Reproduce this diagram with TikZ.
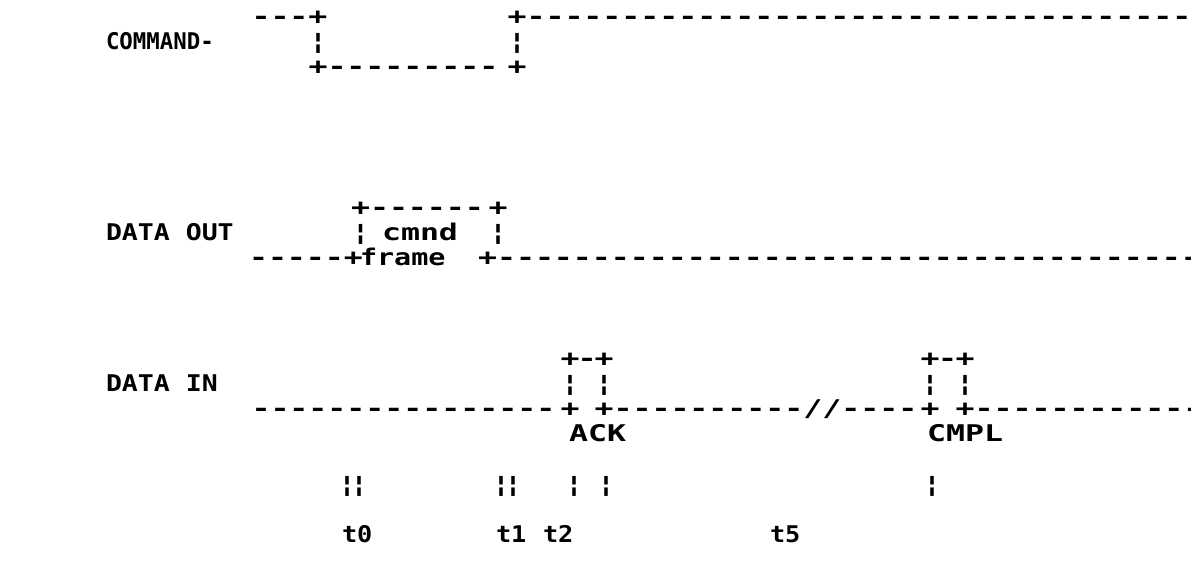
\documentclass[tikz,border=0pt]{standalone}
\usepackage{fontspec}
\newfontfamily\dmfont[FakeStretch=1.3721]{DejaVu Sans Mono}
\ExplSyntaxOn
\cs_new:Npn \mydashes #1 { \prg_replicate:nn {#1} {-{}} }
\ExplSyntaxOff
% left-anchored text segment
\newcommand\seg[4]{\node[txt,anchor=base west] (#1) at (#2,#3) {#4};}
% glyph centred at x
\newcommand\glc[4]{\node[txt,anchor=base] (#1) at (#2,#3) {#4};}
% horizontally scaled label
\newcommand\lab[5]{\node[txt,anchor=base west] (#1) at (#2,#3) {\scalebox{#4}[1]{#5}};}
\begin{document}
\begin{tikzpicture}[x=1pt,y=-1pt,
  txt/.style={font=\dmfont\bfseries\fontsize{23}{23}\selectfont,
    inner sep=0pt, outer sep=0pt}]
\fill[white] (0,0) rectangle (1191,573);
\path[use as bounding box] (0,0) rectangle (1191,573);
% ---------------- COMMAND-
\seg{c1}{251.5}{24}{\mydashes{3}+}
\seg{c2}{507.5}{24}{+\mydashes{36}}
\lab{cl}{106}{49}{0.71}{COMMAND-}
\glc{c3}{318}{49}{¦}
\glc{c4}{517}{49}{¦}
\seg{c5}{308.5}{74}{+\mydashes{9}}
\glc{c6}{517}{74}{+}
% ---------------- DATA OUT
\seg{d1}{351}{215}{+\mydashes{6}}
\glc{d1b}{498}{215}{+}
\lab{dl}{106}{240}{0.84}{DATA\makebox[19pt]{}OUT}
\glc{d2}{360.5}{240}{¦}
\seg{d3}{382}{240}{cmnd}
\glc{d4}{498}{240}{¦}
\seg{d5}{249}{265}{\mydashes{5}+}
\lab{d6}{360}{265}{0.9}{frame}
\seg{d7}{478}{265}{+\mydashes{37}}
% ---------------- DATA IN
\glc{i1}{570}{366}{+}
\glc{i2}{587}{366}{-}
\glc{i3}{604}{366}{+}
\glc{i4}{930}{366}{+}
\glc{i5}{947.5}{366}{-}
\glc{i6}{965}{366}{+}
\lab{il}{106}{391}{0.84}{DATA\makebox[19pt]{}IN}
\glc{i7}{570}{391}{¦}
\glc{i8}{604}{391}{¦}
\glc{i9}{930}{391}{¦}
\glc{i10}{965}{391}{¦}
\seg{i11}{251.5}{416}{\mydashes{16}}
\glc{i12}{570}{416}{+}
\seg{i13}{594.5}{416}{+\mydashes{10}//\mydashes{4}}
\glc{i14}{930}{416}{+}
\seg{i15}{955.5}{416}{+\mydashes{12}}
\seg{ack}{569}{441}{ACK}
\seg{cmpl}{927}{441}{CMPL}
% ---------------- ticks
\glc{k1}{347}{492}{¦}
\glc{k2}{359}{492}{¦}
\glc{k3}{501}{492}{¦}
\glc{k4}{513}{492}{¦}
\glc{k5}{574}{492}{¦}
\glc{k6}{606}{492}{¦}
\glc{k7}{932}{492}{¦}
% ---------------- times
\lab{t0}{342}{542}{0.8}{t0}
\lab{t1}{496}{542}{0.8}{t1}
\lab{t2}{543}{542}{0.8}{t2}
\lab{t5}{770}{542}{0.8}{t5}
\end{tikzpicture}
\end{document}
